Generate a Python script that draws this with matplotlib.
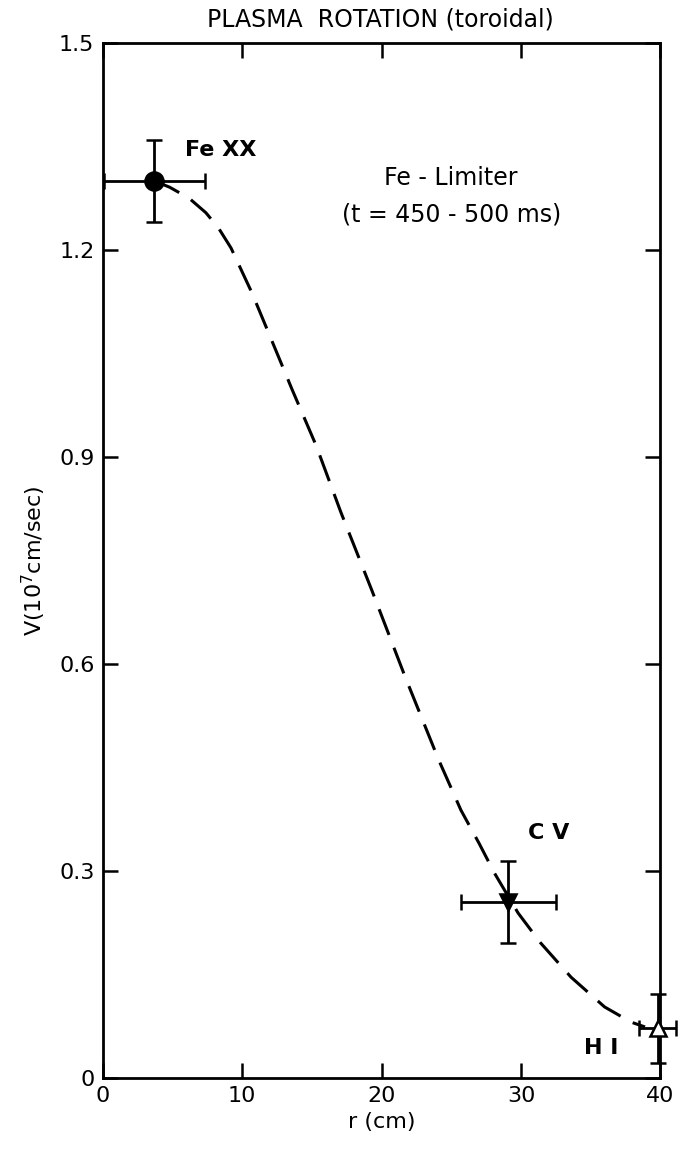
#! /usr/bin/env python3

import matplotlib
matplotlib.use("Agg")
import matplotlib.pyplot as plt
import numpy as np

##
## measured points (r in cm, V in 10^7 cm/sec)
##
ion_labels = ["Fe XX", "C V", "H I"]
r_points = [3.7, 29.1, 39.8]
r_err = [3.6, 3.4, 1.3]
v_points = [1.30, 0.255, 0.072]
v_err = [0.06, 0.06, 0.05]

##
## dashed guide curve
##
curve_r = [3.7, 4.8, 6.2, 7.4, 8.3, 9.2, 10.7, 12.1, 13.6, 15.3, 17.1,
           19.3, 21.7, 24.1, 25.7, 27.0, 28.1, 29.8, 31.4, 33.6, 36.0,
           37.9, 38.9]
curve_v = [1.300, 1.291, 1.275, 1.254, 1.232, 1.203, 1.138, 1.070, 0.997,
           0.917, 0.819, 0.707, 0.581, 0.461, 0.388, 0.340, 0.297, 0.239,
           0.196, 0.146, 0.103, 0.081, 0.074]

x_ticks = [0, 10, 20, 30, 40]
y_ticks = [0, 0.3, 0.6, 0.9, 1.2, 1.5]
y_tick_labels = ["0", "0.3", "0.6", "0.9", "1.2", "1.5"]

plt.rcParams['font.family'] = ['DejaVu Sans']

figure = plt.figure(figsize=(6.85, 11.5), dpi=100)
ax = figure.add_axes([0.150, 0.0626, 0.814, 0.900])

ax.plot(curve_r, curve_v, color="black", linewidth=2.2,
        dashes=(9, 4.5), clip_on=False)

markers = ["o", "v", "^"]
faces = ["black", "black", "white"]
sizes = [13, 12, 11]
for i in range(3):
    ax.errorbar(r_points[i], v_points[i], xerr=r_err[i], yerr=v_err[i],
                fmt=markers[i], color="black", markerfacecolor=faces[i],
                markeredgecolor="black", markeredgewidth=1.8,
                markersize=sizes[i], elinewidth=2.0, capsize=6,
                capthick=2.0, clip_on=False, zorder=3)

ax.set_xlim(0, 40)
ax.set_ylim(0, 1.5)
ax.set_xticks(x_ticks)
ax.set_yticks(y_ticks)
ax.set_yticklabels(y_tick_labels)
ax.tick_params(direction="in", length=11, width=1.8, labelsize=16,
               top=True, right=True, pad=6)
for spine in ax.spines.values():
    spine.set_linewidth(2.0)

ax.set_xlabel("r (cm)", fontsize=16, labelpad=4)
ax.set_ylabel("V(10$^7$cm/sec)", fontsize=16, labelpad=8)

figure.text(0.555, 0.983, "PLASMA  ROTATION (toroidal)", fontsize=17,
            ha="center", va="center")

ax.text(5.9, 1.345, "Fe XX", fontsize=16, ha="left", va="center",
        fontweight="bold")
ax.text(25.0, 1.305, "Fe - Limiter", fontsize=17, ha="center", va="center")
ax.text(25.0, 1.252, "(t = 450 - 500 ms)", fontsize=17, ha="center",
        va="center")
ax.text(30.5, 0.355, "C V", fontsize=16, ha="left", va="center",
        fontweight="bold")
ax.text(37.0, 0.043, "H I", fontsize=16, ha="right", va="center",
        fontweight="bold")

figure.savefig("out.png", dpi=100)
